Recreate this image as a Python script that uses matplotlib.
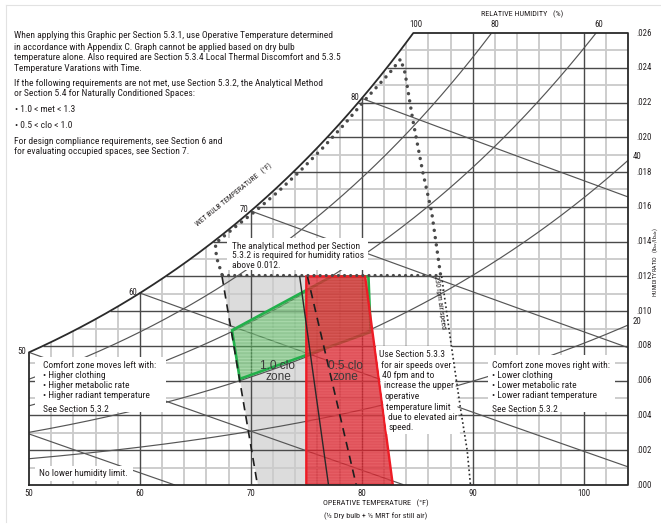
import numpy as np
import matplotlib
matplotlib.use("Agg")
import matplotlib.pyplot as plt
from matplotlib.patches import Polygon
from matplotlib.font_manager import FontProperties, findfont

# ------------------------------------------------------------------ data
t_range = (50, 104)                 # operative temperature axis, degF
w_max = 0.026                       # humidity ratio axis top
t_ticks = [50, 60, 70, 80, 90, 100]
w_ticks = [0.000, 0.002, 0.004, 0.006, 0.008, 0.010, 0.012, 0.014,
           0.016, 0.018, 0.020, 0.022, 0.024, 0.026]
w_tick_labels = [".000", ".002", ".004", ".006", ".008", ".010", ".012",
                 ".014", ".016", ".018", ".020", ".022", ".024", ".026"]
rh_levels = [20, 40, 60, 80]                 # percent (100 = saturation)
rh_top_labels = [100, 80, 60]
rh_side_labels = [40, 20]
wet_bulb_temps = [40, 50, 60, 70, 80]
wet_bulb_labels = [50, 60, 70, 80]

# comfort zones (operative temperature degF, humidity ratio)
clo10_t = [68.3, 77.3, 80.6, 80.8, 69.0]
clo10_w = [0.0089, 0.0120, 0.0120, 0.0088, 0.0061]
clo05_t = [75.0, 80.3, 82.8, 75.0]
clo05_w = [0.0120, 0.0120, 0.0000, 0.0000]
ext_t = [67.4, 75.0, 75.0, 70.6]
ext_w = [0.0120, 0.0120, 0.0000, 0.0000]
ext_left_t = [67.4, 70.6]
ext_left_w = [0.0120, 0.0000]
mid_solid_t = [74.4, 77.0]
mid_solid_w = [0.0120, 0.0000]
mid_dash_t = [75.1, 79.5]
mid_dash_w = [0.0120, 0.0000]
# upper limit of the elevated air speed region
upper_t = [67.4, 66.9, 66.8, 68.5, 70.5, 72.5, 74.5, 76.5, 78.5, 80.5, 82.5, 83.5,
           83.9, 84.6, 85.5, 86.3, 87.1]
upper_w = [0.0121, 0.0131, 0.0139, 0.0148, 0.0158, 0.0169, 0.0181, 0.0194, 0.0208,
           0.0223, 0.0237, 0.0245, 0.0237, 0.0210, 0.0180, 0.0157, 0.0121]
cap_t = [67.4, 87.1]
cap_w = [0.0121, 0.0121]
fpm230_t = [87.2, 88.1, 88.9, 89.5, 89.8]
fpm230_w = [0.0120, 0.0079, 0.0044, 0.0020, 0.0000]

# ------------------------------------------------------------------ fonts
def pick_font(*names):
    for n in names:
        try:
            findfont(FontProperties(family=n), fallback_to_default=False)
            return n
        except Exception:
            pass
    return "DejaVu Sans"

NARROW = pick_font("Liberation Sans Narrow", "Roboto Condensed", "Open Sans Condensed",
                   "Liberation Sans", "DejaVu Sans")
REGULAR = pick_font("Liberation Sans", "DejaVu Sans")
INK = "#231f20"

# ------------------------------------------------------------------ psychrometrics
P_ATM = 101325.0


def sat_pressure(t_f):
    T = (np.asarray(t_f, float) - 32.0) / 1.8 + 273.15
    ln_p = (-5.8002206e3 / T + 1.3914993 - 4.8640239e-2 * T + 4.1764768e-5 * T ** 2
            - 1.4452093e-8 * T ** 3 + 6.5459673 * np.log(T))
    return np.exp(ln_p)


def humidity_ratio(t_f, rh=1.0):
    pw = rh * sat_pressure(t_f)
    return 0.621945 * pw / (P_ATM - pw)


def wet_bulb_line(t_f, twb_f):
    t = (np.asarray(t_f, float) - 32.0) / 1.8
    ts = (twb_f - 32.0) / 1.8
    ws = humidity_ratio(twb_f)
    return ((2501 - 2.326 * ts) * ws - 1.006 * (t - ts)) / (2501 + 1.86 * t - 4.186 * ts)


_tt = np.linspace(20, 120, 8001)


def temp_at(w, rh=1.0):
    return float(np.interp(w, humidity_ratio(_tt, rh), _tt))


# ------------------------------------------------------------------ figure
W_PX, H_PX = 661, 525
fig = plt.figure(figsize=(W_PX / 100, H_PX / 100), dpi=100)
fig.patch.set_facecolor("white")
ax = fig.add_axes([29 / W_PX, 40 / H_PX, 599 / W_PX, 452 / H_PX])
ax.set_xlim(*t_range)
ax.set_ylim(0, w_max)
ax.axis("off")
renderer = fig.canvas.get_renderer()


def fx(x):
    return x / W_PX


def fy(y):
    return 1 - y / H_PX


def fit_size(sample, width_px, family=NARROW):
    """Font size at which `sample` spans `width_px` pixels."""
    t = fig.text(0, 0, sample, fontsize=10, family=family)
    w = t.get_window_extent(renderer).width
    t.remove()
    return 10 * width_px / w


BODY = fit_size("When applying this Graphic per Section 5.3.1, use Operative "
                "Temperature determined", 314)
SMALL = fit_size("OPERATIVE TEMPERATURE   (\u00b0F)", 105)
TICK = fit_size(".026", 15)


def ftext(x, y, s, size=None, family=NARROW, ha="left", va="center", **kw):
    fig.text(fx(x), fy(y), s, fontsize=size or BODY, family=family, ha=ha, va=va,
             color=kw.pop("color", INK), zorder=kw.pop("zorder", 10), **kw)


def white_box(pts):
    ax.add_patch(Polygon([(fx(x), fy(y)) for x, y in pts], closed=True,
                         transform=fig.transFigure, facecolor="white",
                         edgecolor="none", zorder=6, clip_on=False))


# light page frame
fig.add_artist(plt.Line2D([fx(6), fx(661)], [fy(5), fy(5)], color="#e2e2e2", lw=0.8))
fig.add_artist(plt.Line2D([fx(6), fx(6)], [fy(5), fy(522)], color="#e2e2e2", lw=0.8))

# ------------------------------------------------------------------ grid
MINOR = dict(color="#cbcbcb", lw=1.35, zorder=1, solid_capstyle="butt")
MAJOR = dict(color="#4a4a4a", lw=1.0, zorder=1.2, solid_capstyle="butt")
for t in range(t_range[0] + 2, t_range[1], 2):
    top = min(float(humidity_ratio(t)), w_max)
    ax.plot([t, t], [0, top], **(MAJOR if t % 10 == 0 else MINOR))
for k in range(1, 26):
    w = k * 0.001
    left = max(t_range[0], temp_at(w))
    ax.plot([left, t_range[1]], [w, w], **(MAJOR if k % 2 == 0 else MINOR))

# relative humidity curves
CURVE = dict(color="#555555", lw=0.85, zorder=2)
tt = np.linspace(t_range[0], t_range[1], 600)
for rh in rh_levels:
    ww = humidity_ratio(tt, rh / 100)
    m = ww <= w_max
    ax.plot(tt[m], ww[m], **CURVE)

# wet bulb lines
for twb in wet_bulb_temps:
    tl = np.linspace(max(twb, t_range[0]), t_range[1], 400)
    wl = wet_bulb_line(tl, twb)
    m = wl >= 0
    ax.plot(tl[m], wl[m], **CURVE)

# chart outline: saturation curve, top, right, bottom and left edges
t_top = temp_at(w_max)
ts = np.linspace(t_range[0], t_top, 300)
ox = [t_range[0]] + list(ts) + [t_range[1], t_range[1], t_range[0]]
oy = [0] + list(humidity_ratio(ts)) + [w_max, 0, 0]
ax.plot(ox, oy, color="#2a2a2a", lw=1.3, zorder=9, clip_on=False)

# ------------------------------------------------------------------ comfort zones
plt.rcParams["hatch.linewidth"] = 0.7
ax.add_patch(Polygon(list(zip(ext_t, ext_w)), closed=True, facecolor="#dcdcdc",
                     edgecolor="none", zorder=0.5))
ax.add_patch(Polygon(list(zip(clo10_t, clo10_w)), closed=True, facecolor="#58b85e",
                     alpha=0.55, edgecolor="none", zorder=3))
ax.add_patch(Polygon(list(zip(clo10_t, clo10_w)), closed=True, facecolor="none",
                     hatch="-----", edgecolor=(0.85, 1, 0.85, 0.35), lw=0, zorder=3.05))
ax.add_patch(Polygon(list(zip(clo10_t, clo10_w)), closed=True, facecolor="none",
                     edgecolor="#22b04b", lw=1.9, zorder=3.1))
ax.add_patch(Polygon(list(zip(clo05_t, clo05_w)), closed=True, facecolor="#d8232d",
                     alpha=0.78, edgecolor="none", zorder=3.5))
ax.add_patch(Polygon(list(zip(clo05_t, clo05_w)), closed=True, facecolor="none",
                     hatch="------", edgecolor=(1, 0.55, 0.55, 0.22), lw=0, zorder=3.6))
ax.add_patch(Polygon(list(zip(clo05_t, clo05_w)), closed=True, facecolor="none",
                     edgecolor="#ee1c25", lw=1.7, zorder=4))

ax.plot(ext_left_t, ext_left_w, color="#1e1e1e", lw=1.2, ls=(0, (5, 3.5)), zorder=4.5)
ax.plot(mid_solid_t, mid_solid_w, color="#2a2a2a", lw=1.0, zorder=4.5)
ax.plot(mid_dash_t, mid_dash_w, color="#1e1e1e", lw=1.2, ls=(0, (5, 3.5)), zorder=4.5)

ax.plot(upper_t, upper_w, color="#4a4a4a", lw=2.5, ls=(0, (0.01, 2.1)),
        dash_capstyle="round", zorder=7)
ax.plot(cap_t, cap_w, color="#4a4a4a", lw=2.3, ls=(0, (0.01, 1.9)),
        dash_capstyle="round", zorder=7)
ax.plot(fpm230_t, fpm230_w, color="#2a2a2a", lw=1.2, ls=(0, (1.0, 1.6)), zorder=8)

# ------------------------------------------------------------------ white label boxes
white_box([(227, 238), (368, 238), (368, 270), (227, 270)])
white_box([(376, 346), (452, 346), (460, 434), (387, 434)])
white_box([(488, 355), (615, 355), (615, 412), (488, 412)])
white_box([(35, 357), (166, 357), (166, 412), (35, 412)])
white_box([(35, 466), (133, 466), (133, 481), (35, 481)])

# ------------------------------------------------------------------ axis labels
for t in t_ticks:
    ax.annotate(str(t), xy=(t, 0), xytext=(0, -9), textcoords="offset pixels",
                ha="center", va="center", fontsize=TICK, family=NARROW, color=INK)
for w, lab in zip(w_ticks, w_tick_labels):
    ax.annotate(lab, xy=(t_range[1], w), xytext=(16, 0), textcoords="offset pixels",
                ha="center", va="center", fontsize=TICK, family=NARROW, color=INK,
                annotation_clip=False)
for rh in rh_top_labels:
    ax.annotate(str(rh), xy=(temp_at(w_max, rh / 100), w_max), xytext=(3, 9),
                textcoords="offset pixels", ha="center", va="center", fontsize=TICK,
                family=NARROW, color=INK, annotation_clip=False)
for rh in rh_side_labels:
    ax.annotate(str(rh), xy=(t_range[1], float(humidity_ratio(t_range[1], rh / 100))),
                xytext=(9, 4), textcoords="offset pixels", ha="center", va="center",
                fontsize=TICK, family=NARROW, color=INK, annotation_clip=False)
for twb in wet_bulb_labels:
    ax.annotate(str(twb), xy=(twb, float(humidity_ratio(twb))), xytext=(-7, 1),
                textcoords="offset pixels", ha="center", va="center", fontsize=TICK,
                family=NARROW, color=INK, annotation_clip=False)

ftext(522, 14, "RELATIVE HUMIDITY   (%)", size=SMALL, ha="center")
ftext(376, 503, "OPERATIVE TEMPERATURE   (\u00b0F)", size=SMALL, ha="center")
ftext(376, 516, "(\u00bd Dry bulb + \u00bd MRT for still air)", size=SMALL, ha="center")
ftext(234, 195, "WET BULB TEMPERATURE   (\u00b0F)", size=SMALL * 0.95, ha="center",
      rotation=39, rotation_mode="anchor")
ftext(655.5, 262, "HUMIDITY RATIO   (lb$_w$/lb$_{da}$)", size=SMALL * 0.75,
      ha="center", rotation=90)
ftext(440, 302, "230 fpm air speed", size=SMALL * 0.95, ha="center", rotation=-82,
      rotation_mode="anchor", zorder=9)

# ------------------------------------------------------------------ notes
notes = [
    (14, 36, "When applying this Graphic per Section 5.3.1, use Operative Temperature determined"),
    (14, 47, "in accordance with Appendix C. Graph cannot be applied based on dry bulb"),
    (14, 58, "temperature alone. Also required are Section 5.3.4 Local Thermal Discomfort and 5.3.5"),
    (14, 68.5, "Temperature Varations with Time."),
    (14, 83, "If the following requirements are not met, use Section 5.3.2, the Analytical Method"),
    (14, 94, "or Section 5.4 for Naturally Conditioned Spaces:"),
    (15, 109.5, "\u2022 1.0 < met < 1.3"),
    (15, 126, "\u2022 0.5 < clo < 1.0"),
    (14, 141, "For design compliance requirements, see Section 6 and"),
    (14, 152, "for evaluating occupied spaces, see Section 7."),
]
for x, y, s in notes:
    ftext(x, y, s)

for i, s in enumerate(["The analytical method per Section",
                       "5.3.2 is required for humidity ratios",
                       "above 0.012."]):
    ftext(232, 246 + 10 * i, s)

air_lines = ["Use Section 5.3.3", "for air speeds over", "40 fpm and to",
             "increase the upper", "operative", "temperature limit",
             "due to elevated air", "speed."]
for i, s in enumerate(air_lines):
    y = 354.5 + 10.5 * i
    ftext(379.5 + 1.35 * (y - 354.5) / 10.5, y, s)

for i, s in enumerate(["Comfort zone moves left with:", "\u2022 Higher clothing",
                       "\u2022 Higher metabolic rate", "\u2022 Higher radiant temperature"]):
    ftext(43, 365 + 10.3 * i, s)
ftext(43, 409, "See Section 5.3.2")

for i, s in enumerate(["Comfort zone moves right with:", "\u2022 Lower clothing",
                       "\u2022 Lower metabolic rate", "\u2022 Lower radiant temperature"]):
    ftext(492, 365 + 10.3 * i, s)
ftext(492, 409, "See Section 5.3.2")

ftext(39, 474, "No lower humidity limit.")

for cx, lab in [(278, "1.0 clo"), (345, "0.5 clo")]:
    ftext(cx, 366, lab, size=8.6, family=REGULAR, ha="center", color="#3b3b3b")
    ftext(cx, 377, "zone", size=8.6, family=REGULAR, ha="center", color="#3b3b3b")

fig.savefig("out.png", dpi=100, facecolor="white")
